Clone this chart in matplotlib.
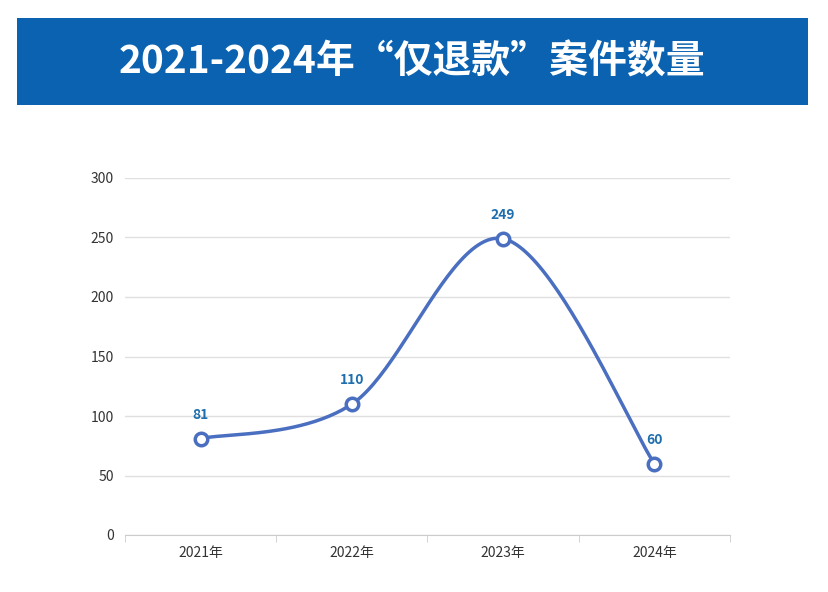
import numpy as np
import matplotlib
matplotlib.use("Agg")
import matplotlib.pyplot as plt
from matplotlib.patches import Rectangle

plt.rcParams['font.family'] = ['Noto Sans CJK SC', 'DejaVu Sans']

title = "2021-2024年“仅退款”案件数量"
categories = ["2021年", "2022年", "2023年", "2024年"]
values = [81, 110, 249, 60]

W, H = 829, 592
fig = plt.figure(figsize=(W/100, H/100), dpi=100)
fig.patch.set_facecolor('white')
fig.add_artist(Rectangle((17/W, 1-105/H), (808-17)/W, (105-18)/H,
                         transform=fig.transFigure, facecolor='#0b62b0', edgecolor='none'))
fig.text(412/W, 1-62/H, title, color='white', fontsize=28, fontweight='bold',
         ha='center', va='center')

ax = fig.add_axes([125/W, 1-535/H, (730-125)/W, (535-178)/H])
x = np.arange(len(values))
y = np.array(values, float)

# Catmull-Rom smoothing through the data points
xs, ys = [], []
P = np.column_stack([x, y])
Pext = np.vstack([P[0], P, P[-1]])
for i in range(len(P)-1):
    p0, p1, p2, p3 = Pext[i], Pext[i+1], Pext[i+2], Pext[i+3]
    t = np.linspace(0, 1, 50)[:, None]
    seg = 0.5*((2*p1) + (-p0+p2)*t + (2*p0-5*p1+4*p2-p3)*t**2 + (-p0+3*p1-3*p2+p3)*t**3)
    xs.append(seg[:, 0]); ys.append(seg[:, 1])
xs = np.concatenate(xs); ys = np.concatenate(ys)

lc = '#4a6fc0'
ax.plot(xs, ys, color=lc, lw=2.5, zorder=2)
ax.plot(x, y, 'o', ms=9, mfc='white', mec=lc, mew=2.5, zorder=3)
for xi, yi in zip(x, y):
    ax.annotate(f"{int(yi)}", (xi, yi), xytext=(0, 12), textcoords='offset points',
                ha='center', va='bottom', color='#1f6fae', fontsize=10, fontweight='bold')

ax.set_xlim(-0.5, 3.5)
ax.set_ylim(0, 300)
ax.set_yticks(range(0, 301, 50))
ax.set_xticks(x)
ax.set_xticklabels(categories)
ax.set_xticks(np.arange(-0.5, 3.6, 1), minor=True)
ax.tick_params(axis='x', which='major', length=0, pad=8, labelsize=10, colors='#333333')
ax.tick_params(axis='x', which='minor', length=5, color='#cccccc')
ax.tick_params(axis='y', length=0, pad=8, labelsize=10, colors='#333333')
ax.grid(axis='y', color='#e0e0e0', lw=1)
ax.set_axisbelow(True)
for s in ['top', 'right', 'left']:
    ax.spines[s].set_visible(False)
ax.spines['bottom'].set_color('#cccccc')

fig.savefig('out.png', dpi=100)
